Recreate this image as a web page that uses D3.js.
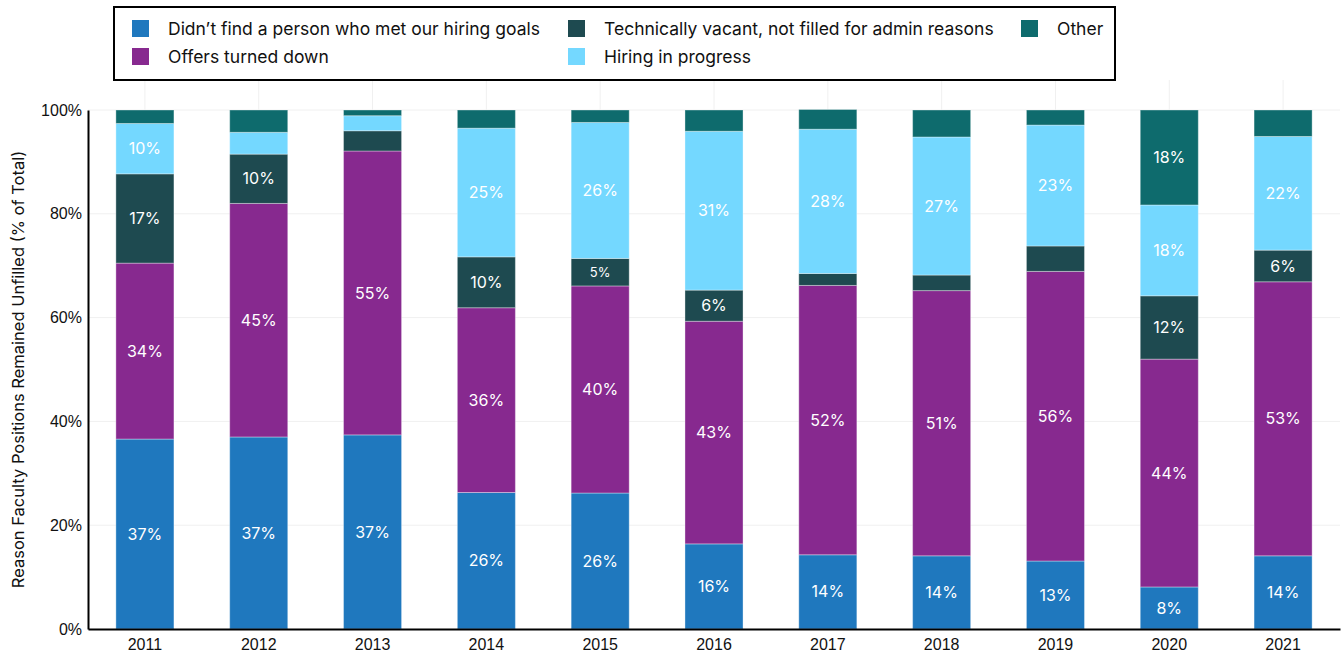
<!DOCTYPE html>
<html>
<head>
<meta charset="utf-8">
<script src="https://cdn.jsdelivr.net/npm/d3@7"></script>
<style>
  body { margin: 0; background: #fff; }
  svg { display: block; font-family: Inter, "Noto Sans", sans-serif; }
</style>
</head>
<body>
<script>
// years on the x axis
const years = ["2011", "2012", "2013", "2014", "2015", "2016", "2017", "2018", "2019", "2020", "2021"];

// share of unfilled positions per reason (% of total)
const notFound   = [36.6, 37.0, 37.4, 26.3, 26.2, 16.4, 14.3, 14.1, 13.1, 8.1, 14.1];
const turnedDown = [33.9, 45.0, 54.7, 35.6, 39.9, 42.9, 51.9, 51.1, 55.8, 43.9, 52.8];
const vacant     = [17.2, 9.5, 3.9, 9.8, 5.3, 6.0, 2.3, 3.0, 4.9, 12.2, 6.1];
const inProgress = [9.7, 4.2, 2.9, 24.8, 26.2, 30.6, 27.8, 26.6, 23.3, 17.5, 21.9];
const other      = [2.6, 4.3, 1.1, 3.5, 2.4, 4.1, 3.8, 5.2, 2.9, 18.3, 5.1];

const seriesNames = [
  "Didn\u2019t find a person who met our hiring goals",
  "Offers turned down",
  "Technically vacant, not filled for admin reasons",
  "Hiring in progress",
  "Other"
];
const yTicks = [0, 20, 40, 60, 80, 100];

const colors = ["#1f78be", "#87298f", "#1e4a50", "#74d8ff", "#0e6b6d"];

const W = 1343, H = 658;
const margin = {top: 110, right: 3, bottom: 29, left: 88};
const width = W - margin.left - margin.right,
      height = H - margin.top - margin.bottom;

const svg = d3.select("body").append("svg")
    .attr("width", W)
    .attr("height", H);

const g = svg.append("g")
    .attr("transform", `translate(${margin.left},${margin.top})`);

// build rows for the stack
const keys = ["a", "b", "c", "d", "e"];
const allSeries = [notFound, turnedDown, vacant, inProgress, other];
const rows = years.map((yr, i) => {
  const r = {year: yr};
  keys.forEach((k, j) => r[k] = allSeries[j][i]);
  return r;
});
const stacked = d3.stack().keys(keys)(rows);

const x = d3.scaleBand()
    .domain(years)
    .range([0, width])
    .paddingInner(0.49)
    .paddingOuter(0.245);

const y = d3.scaleLinear()
    .domain([0, 100])
    .range([height, 0]);

// faint grid lines
g.append("g").selectAll("line.h")
  .data(yTicks.slice(1))
  .join("line")
    .attr("x1", 0).attr("x2", width)
    .attr("y1", d => y(d)).attr("y2", d => y(d))
    .attr("stroke", "#f0f0f0");

g.append("g").selectAll("line.v")
  .data(years)
  .join("line")
    .attr("x1", d => x(d) + x.bandwidth() / 2)
    .attr("x2", d => x(d) + x.bandwidth() / 2)
    .attr("y1", -margin.top + 80).attr("y2", height)
    .attr("stroke", "#f0f0f0");

// bars
const layers = g.append("g").selectAll("g")
  .data(stacked)
  .join("g")
    .attr("fill", (d, i) => colors[i]);

layers.selectAll("rect")
  .data(d => d)
  .join("rect")
    .attr("x", d => x(d.data.year))
    .attr("y", d => y(d[1]))
    .attr("width", x.bandwidth())
    .attr("height", d => y(d[0]) - y(d[1]))
    .attr("stroke", "#ffffff")
    .attr("stroke-opacity", 0.35)
    .attr("stroke-width", 1);

// value labels
layers.selectAll("text")
  .data(d => d.filter(p => (p[1] - p[0]) >= 5.25))
  .join("text")
    .attr("x", d => x(d.data.year) + x.bandwidth() / 2)
    .attr("y", d => y((d[0] + d[1]) / 2))
    .attr("dy", "0.35em")
    .attr("text-anchor", "middle")
    .attr("fill", "#fff")
    .style("font-size", d => (d[1] - d[0]) < 5.5 ? "13px" : "16px")
    .text(d => Math.round(d[1] - d[0]) + "%");

// axes
const yAxis = g.append("g")
    .call(d3.axisLeft(y).tickValues(yTicks).tickSize(0).tickPadding(6).tickFormat(d => d + "%"));
yAxis.select(".domain").attr("stroke", "#000").attr("stroke-width", 2);
yAxis.selectAll("text").style("font-size", "16px").attr("fill", "#111");

const xAxis = g.append("g")
    .attr("transform", `translate(0,${height})`)
    .call(d3.axisBottom(x).tickSize(0).tickPadding(10));
xAxis.select(".domain").attr("stroke", "#000").attr("stroke-width", 2);
xAxis.selectAll("text").style("font-size", "16px").attr("fill", "#111");

// y axis title
svg.append("text")
    .attr("transform", `translate(24,${margin.top + height / 2}) rotate(-90)`)
    .attr("text-anchor", "middle")
    .style("font-size", "16.5px")
    .attr("fill", "#111")
    .text("Reason Faculty Positions Remained Unfilled (% of Total)");

// legend
const legend = svg.append("g");
legend.append("rect")
    .attr("x", 114).attr("y", 7)
    .attr("width", 1001).attr("height", 73)
    .attr("fill", "#fff")
    .attr("stroke", "#000")
    .attr("stroke-width", 2);

const legendPos = [[132, 20], [132, 48], [568, 20], [568, 48], [1021, 20]];
const legendItems = legend.selectAll("g.item")
  .data(seriesNames)
  .join("g")
    .attr("class", "item")
    .attr("transform", (d, i) => `translate(${legendPos[i][0]},${legendPos[i][1]})`);

legendItems.append("rect")
    .attr("width", 17).attr("height", 17)
    .attr("fill", (d, i) => colors[i]);

legendItems.append("text")
    .attr("x", 36)
    .attr("y", 9)
    .attr("dy", "0.35em")
    .style("font-size", "17.5px")
    .attr("fill", "#111")
    .text(d => d);
</script>
</body>
</html>
